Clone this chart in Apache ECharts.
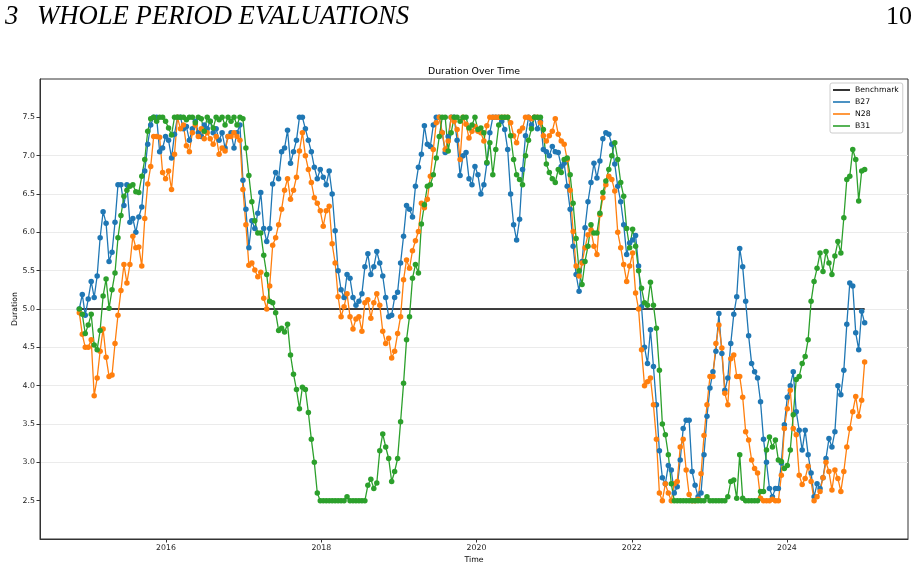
<!DOCTYPE html>
<html>
<head>
<meta charset="utf-8">
<title>Duration Over Time</title>
<style>
  html, body { margin: 0; padding: 0; background: #fff; }
  #chart { width: 918px; height: 569px; }
</style>
<script src="https://cdn.jsdelivr.net/npm/echarts@6/dist/echarts.min.js"></script>
</head>
<body>
<div id="chart"></div>
<script>
// fortnightly observations, first one mid Nov 2014
const startDate = Date.UTC(2014, 10, 19);
const stepDays = 14;

const benchmarkValue = 5.0;

const b27 = [
  5.00, 5.19, 4.92, 5.13, 5.36, 5.15, 5.43, 5.93, 6.27, 6.12,
  5.62, 5.74, 6.13, 6.62, 6.62, 6.35, 6.62, 6.13, 6.18, 6.00,
  6.20, 6.33, 6.80, 7.15, 7.40, 7.50, 7.50, 7.05, 7.10, 7.25,
  7.20, 6.97, 7.28, 7.50, 7.50, 7.35, 7.38, 7.20, 7.35, 7.45,
  7.30, 7.25, 7.40, 7.35, 7.45, 7.30, 7.35, 7.20, 7.30, 7.10,
  7.25, 7.30, 7.10, 7.30, 7.40, 6.68, 6.30, 5.80, 6.15, 6.05,
  6.25, 6.52, 6.05, 5.88, 6.05, 6.63, 6.78, 6.70, 7.05, 7.10,
  7.33, 6.90, 7.05, 7.20, 7.50, 7.50, 7.35, 7.20, 7.05, 6.85,
  6.70, 6.82, 6.72, 6.62, 6.80, 6.50, 6.02, 5.50, 5.25, 5.15,
  5.45, 5.40, 5.15, 5.05, 5.10, 5.20, 5.55, 5.72, 5.45, 5.55,
  5.75, 5.60, 5.43, 5.15, 4.90, 4.92, 5.15, 5.22, 5.60, 5.95,
  6.35, 6.30, 6.20, 6.60, 6.85, 7.02, 7.39, 7.15, 7.12, 7.40,
  7.50, 7.50, 7.30, 7.04, 7.25, 7.50, 7.50, 7.20, 6.74, 7.00,
  7.04, 6.70, 6.62, 6.86, 6.75, 6.50, 6.62, 6.90, 7.30, 7.50,
  7.50, 7.50, 7.45, 7.34, 7.08, 6.50, 6.10, 5.90, 6.17, 6.82,
  7.26, 7.50, 7.40, 7.50, 7.35, 7.45, 7.08, 7.05, 7.00, 7.12,
  7.05, 7.04, 6.86, 6.90, 6.60, 6.30, 5.82, 5.45, 5.23, 5.62,
  6.06, 6.40, 6.65, 6.90, 6.71, 6.93, 7.22, 7.30, 7.28, 7.15,
  6.89, 6.60, 6.40, 6.10, 5.71, 5.86, 5.90, 5.96, 5.56, 5.03,
  4.50, 4.29, 4.73, 4.25, 3.75, 3.15, 2.80, 2.72, 2.96, 2.90,
  2.60, 2.68, 3.03, 3.44, 3.55, 3.55, 2.88, 2.70, 2.55, 2.60,
  3.10, 3.60, 3.97, 4.18, 4.45, 4.94, 4.42, 3.94, 4.10, 4.55,
  4.93, 5.16, 5.79, 5.55, 5.10, 4.65, 4.29, 4.18, 4.10, 3.79,
  3.30, 3.00, 2.66, 2.55, 2.66, 2.66, 2.99, 3.49, 3.85, 4.00,
  4.18, 3.66, 3.42, 3.16, 3.42, 3.10, 2.86, 2.55, 2.72, 2.66,
  2.80, 3.05, 3.31, 3.20, 3.40, 4.00, 3.88, 4.20, 4.80, 5.34,
  5.30, 4.69, 4.47, 4.97, 4.82
];

const n28 = [
  4.95, 4.67, 4.50, 4.50, 4.60, 3.87, 4.10, 4.45, 4.74, 4.37,
  4.12, 4.14, 4.55, 4.92, 5.24, 5.58, 5.34, 5.58, 5.95, 5.80,
  5.81, 5.56, 6.18, 6.63, 6.86, 7.25, 7.25, 7.24, 6.78, 6.70,
  6.80, 6.56, 7.02, 7.50, 7.35, 7.40, 7.13, 7.05, 7.30, 7.40,
  7.25, 7.35, 7.22, 7.30, 7.22, 7.15, 7.25, 7.02, 7.10, 7.06,
  7.25, 7.25, 7.30, 7.25, 7.20, 6.56, 6.10, 5.57, 5.60, 5.51,
  5.42, 5.48, 5.14, 5.00, 5.30, 5.83, 5.93, 6.10, 6.30, 6.55,
  6.70, 6.43, 6.55, 6.72, 7.06, 7.30, 7.00, 6.82, 6.65, 6.45,
  6.38, 6.28, 6.08, 6.28, 6.34, 5.85, 5.60, 5.16, 4.90, 5.03,
  5.20, 4.90, 4.74, 4.87, 4.90, 4.71, 5.08, 5.12, 4.88, 5.08,
  5.20, 5.05, 4.71, 4.55, 4.62, 4.36, 4.45, 4.68, 4.90, 5.38,
  5.64, 5.53, 5.76, 5.89, 6.01, 6.38, 6.32, 6.43, 6.73, 7.08,
  7.43, 7.50, 7.30, 7.08, 7.19, 7.50, 7.45, 7.34, 6.95, 7.50,
  7.41, 7.23, 7.32, 7.38, 7.32, 7.30, 7.19, 7.39, 7.50, 7.50,
  7.50, 7.50, 7.50, 7.50, 7.50, 7.43, 7.26, 7.17, 7.32, 7.36,
  7.50, 7.50, 7.48, 7.50, 7.50, 7.43, 7.26, 7.19, 7.26, 7.32,
  7.48, 7.28, 7.19, 7.15, 6.95, 6.55, 6.01, 5.56, 5.43, 5.60,
  5.80, 5.97, 6.03, 5.82, 5.71, 6.23, 6.45, 6.62, 6.73, 6.69,
  6.54, 6.00, 5.80, 5.58, 5.36, 5.56, 5.73, 5.21, 5.00, 4.47,
  4.00, 4.05, 4.10, 3.75, 3.30, 2.60, 2.50, 2.72, 2.60, 2.50,
  2.72, 2.75, 3.20, 3.30, 2.90, 2.58, 2.50, 2.50, 2.52, 2.85,
  3.35, 3.75, 4.12, 4.12, 4.55, 4.79, 4.49, 3.90, 3.75, 4.35,
  4.40, 4.12, 4.12, 3.85, 3.40, 3.29, 3.03, 2.92, 2.86, 2.53,
  2.50, 2.50, 2.50, 2.52, 2.50, 2.50, 2.83, 3.44, 3.70, 3.94,
  3.44, 3.36, 2.83, 2.71, 2.79, 2.95, 2.75, 2.50, 2.55, 2.62,
  2.80, 3.00, 2.88, 2.64, 2.90, 2.79, 2.62, 2.88, 3.20, 3.44,
  3.66, 3.86, 3.60, 3.81, 4.31
];

const b31 = [
  5.00, 4.93, 4.68, 4.79, 4.93, 4.53, 4.47, 4.72, 5.17, 5.39,
  5.01, 5.25, 5.47, 5.93, 6.22, 6.47, 6.55, 6.60, 6.62, 6.53,
  6.52, 6.73, 6.95, 7.32, 7.48, 7.50, 7.45, 7.50, 7.50, 7.45,
  7.36, 7.27, 7.50, 7.50, 7.50, 7.50, 7.47, 7.50, 7.50, 7.43,
  7.50, 7.48, 7.32, 7.50, 7.45, 7.36, 7.50, 7.47, 7.50, 7.40,
  7.50, 7.45, 7.50, 7.40, 7.50, 7.48, 7.10, 6.74, 6.40, 6.15,
  5.99, 5.99, 5.70, 5.45, 5.10, 5.08, 4.95, 4.72, 4.75, 4.70,
  4.80, 4.40, 4.15, 3.95, 3.70, 3.98, 3.95, 3.65, 3.30, 3.00,
  2.60, 2.50, 2.50, 2.50, 2.50, 2.50, 2.50, 2.50, 2.50, 2.50,
  2.55, 2.50, 2.50, 2.50, 2.50, 2.50, 2.50, 2.70, 2.78, 2.66,
  2.73, 3.15, 3.37, 3.20, 3.05, 2.75, 2.88, 3.05, 3.53, 4.03,
  4.60, 4.90, 5.40, 5.58, 5.47, 6.11, 6.36, 6.60, 6.62, 6.75,
  6.97, 7.25, 7.50, 7.50, 7.06, 7.30, 7.50, 7.50, 7.45, 7.50,
  7.50, 7.36, 7.40, 7.50, 7.34, 7.36, 7.30, 6.91, 7.17, 6.75,
  7.08, 7.40, 7.50, 7.50, 7.50, 7.26, 6.95, 6.75, 6.69, 6.62,
  7.00, 7.20, 7.35, 7.50, 7.50, 7.50, 7.34, 6.89, 6.78, 6.70,
  6.65, 6.82, 6.78, 6.95, 6.97, 6.75, 6.38, 5.92, 5.50, 5.32,
  5.62, 5.82, 6.10, 5.99, 5.99, 6.25, 6.52, 6.67, 6.82, 7.00,
  7.17, 6.95, 6.65, 6.47, 6.05, 5.80, 6.04, 5.82, 5.50, 5.27,
  5.08, 5.05, 5.35, 5.05, 4.75, 4.20, 3.50, 3.36, 3.10, 2.72,
  2.50, 2.50, 2.50, 2.50, 2.50, 2.50, 2.50, 2.50, 2.50, 2.50,
  2.50, 2.55, 2.50, 2.50, 2.50, 2.50, 2.50, 2.50, 2.55, 2.75,
  2.77, 2.53, 3.10, 2.53, 2.50, 2.50, 2.50, 2.50, 2.50, 2.62,
  2.62, 3.16, 3.33, 3.20, 3.29, 3.03, 3.01, 2.92, 2.96, 3.16,
  3.62, 4.08, 4.12, 4.29, 4.38, 4.60, 5.10, 5.36, 5.53, 5.73,
  5.49, 5.75, 5.60, 5.45, 5.69, 5.88, 5.73, 6.19, 6.69, 6.73,
  7.08, 6.95, 6.41, 6.80, 6.82
];

const yTicks = [2.5, 3.0, 3.5, 4.0, 4.5, 5.0, 5.5, 6.0, 6.5, 7.0, 7.5];
const xTickYears = [2016, 2018, 2020, 2022, 2024];

const dates = b27.map((_, i) => startDate + i * stepDays * 86400000);
const xTicks = xTickYears.map(y => Date.UTC(y, 0, 1));

function pairs(values) {
  return values.map((v, i) => [dates[i], v]);
}

const font = 'DejaVu Sans';
const lineSeries = (name, values, color) => ({
  name: name,
  type: 'line',
  data: pairs(values),
  symbol: 'circle',
  symbolSize: 5.5,
  showAllSymbol: true,
  lineStyle: { color: color, width: 1.3 },
  itemStyle: { color: color },
  emphasis: { disabled: true }
});

let chart = echarts.init(document.getElementById('chart'), null, {renderer: 'canvas'});
let option;

option = {
  animation: false,
  backgroundColor: '#fff',
  graphic: [
    { type: 'text', x: 5, y: 17, style: { text: '3', font: 'italic 26.7px "Liberation Serif"', fill: '#000', verticalAlign: 'middle' } },
    { type: 'text', x: 37, y: 17, style: { text: 'WHOLE PERIOD EVALUATIONS', font: 'italic 26.7px "Liberation Serif"', fill: '#000', verticalAlign: 'middle' } },
    { type: 'text', x: 912, y: 17, style: { text: '10', font: '26px "Liberation Serif"', fill: '#000', align: 'right', verticalAlign: 'middle' } },
    { type: 'text', x: 474, y: 72, style: { text: 'Duration Over Time', font: '9.4px "DejaVu Sans"', fill: '#000', align: 'center', verticalAlign: 'middle' } }
  ],
  legend: {
    orient: 'vertical',
    left: 830,
    top: 83,
    data: ['Benchmark', 'B27', 'N28', 'B31'],
    icon: 'rect',
    itemWidth: 17,
    itemHeight: 1.6,
    itemGap: 2,
    padding: [2, 4, 2, 3],
    backgroundColor: '#fff',
    borderColor: '#cccccc',
    borderWidth: 1,
    borderRadius: 2,
    textStyle: { fontFamily: font, fontSize: 7.7, color: '#000', lineHeight: 10 }
  },
  grid: {
    left: 40,
    right: 10,
    top: 79,
    bottom: 30,
    outerBoundsMode: 'none',
    containLabel: false,
    show: true,
    borderColor: '#333',
    borderWidth: 1
  },
  xAxis: {
    type: 'value',
    min: Date.UTC(2014, 4, 18),
    max: Date.UTC(2025, 6, 24),
    name: 'Time',
    nameLocation: 'middle',
    nameGap: 17,
    nameMoveOverlap: false,
    nameTextStyle: { fontFamily: font, fontSize: 7.8, color: '#000' },
    axisLine: { show: true, lineStyle: { color: '#333', width: 1 } },
    axisTick: { show: true, length: 3.5, customValues: xTicks, lineStyle: { color: '#333' } },
    axisLabel: {
      customValues: xTicks,
      formatter: v => String(new Date(v).getUTCFullYear()),
      fontFamily: font,
      fontSize: 7.8,
      color: '#222',
      margin: 5
    },
    splitLine: { show: false }
  },
  yAxis: {
    type: 'value',
    min: 2,
    max: 8,
    interval: 0.5,
    name: 'Duration',
    nameLocation: 'middle',
    nameGap: 21,
    nameMoveOverlap: false,
    nameTextStyle: { fontFamily: font, fontSize: 7.8, color: '#000' },
    axisLine: { show: true, lineStyle: { color: '#333', width: 1 } },
    axisTick: { show: true, length: 3.5, customValues: yTicks, lineStyle: { color: '#333' } },
    axisLabel: {
      customValues: yTicks,
      formatter: v => v.toFixed(1),
      fontFamily: font,
      fontSize: 7.8,
      color: '#222',
      margin: 5
    },
    splitLine: { show: true, showMinLine: false, showMaxLine: false, lineStyle: { color: '#ebebeb', width: 1 } }
  },
  series: [
    {
      name: 'Benchmark',
      type: 'line',
      data: [[dates[0], benchmarkValue], [dates[dates.length - 1], benchmarkValue]],
      showSymbol: false,
      lineStyle: { color: '#000', width: 1.6 },
      itemStyle: { color: '#000' },
      emphasis: { disabled: true }
    },
    lineSeries('B27', b27, '#1f77b4'),
    lineSeries('N28', n28, '#ff7f0e'),
    lineSeries('B31', b31, '#2ca02c')
  ]
};

chart.setOption(option);
window.addEventListener('resize', function () {
  chart.resize();
});
</script>
</body>
</html>
